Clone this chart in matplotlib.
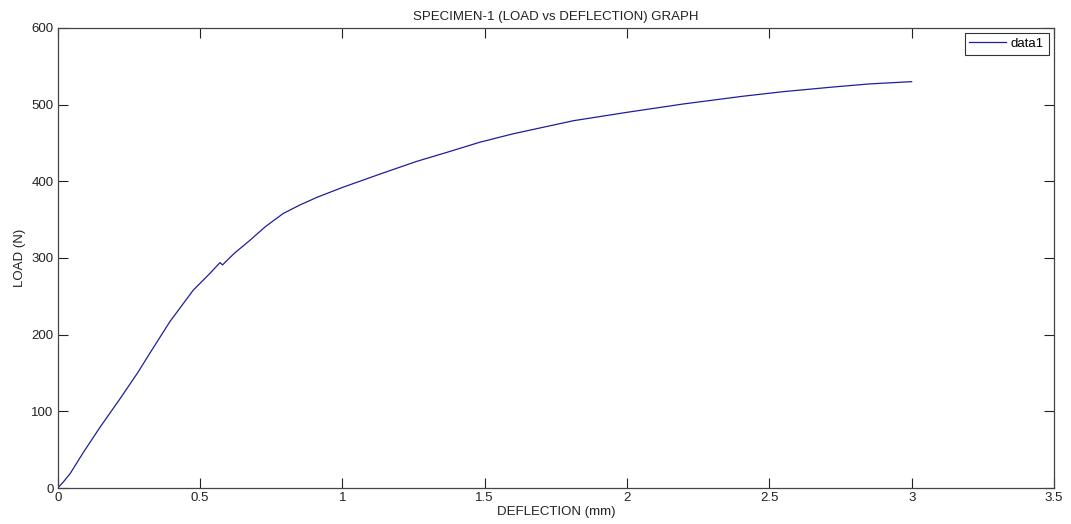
import matplotlib
matplotlib.use("Agg")
import matplotlib.pyplot as plt

deflection = [0, 0.02, 0.044, 0.091, 0.15, 0.22, 0.282, 0.324, 0.394, 0.476, 0.535,
              0.570, 0.579, 0.62, 0.675, 0.73, 0.792, 0.85, 0.91, 1.0, 1.144, 1.261, 1.378,
              1.483, 1.6, 1.811, 2.0, 2.2, 2.408, 2.55, 2.724, 2.85, 3.0]
load = [0, 8, 19, 47, 80, 117, 151, 176, 217, 258, 280,
        294, 291, 306, 323, 341, 358, 369, 379, 392, 411, 426, 439,
        451, 462, 479, 490, 501, 511, 517, 523, 527, 530]

xticks = [0, 0.5, 1, 1.5, 2, 2.5, 3, 3.5]
xtick_labels = ["0", "0.5", "1", "1.5", "2", "2.5", "3", "3.5"]
yticks = [0, 100, 200, 300, 400, 500, 600]

plt.rcParams['font.family'] = ['Liberation Sans', 'DejaVu Sans']
FS = 9.5

fig = plt.figure(figsize=(10.71, 5.24), dpi=100)
ax = fig.add_axes([0.0539, 0.0687, 0.9302, 0.8779])
ax.plot(deflection, load, color='#1e1e9c', linewidth=0.9, label='data1')
ax.set_xlim(0, 3.5)
ax.set_ylim(0, 600)
ax.set_xticks(xticks)
ax.set_xticklabels(xtick_labels)
ax.set_yticks(yticks)
ax.tick_params(direction='in', length=7, width=0.8, top=True, right=True,
               labelsize=FS, colors='#222222', pad=3)
for s in ax.spines.values():
    s.set_color('#444444')
    s.set_linewidth(0.9)
ax.set_title('SPECIMEN-1 (LOAD vs DEFLECTION) GRAPH', fontsize=FS, pad=6, color='#222222')
ax.set_xlabel('DEFLECTION (mm)', fontsize=FS, labelpad=1, color='#222222')
ax.set_ylabel('LOAD (N)', fontsize=FS, labelpad=4, color='#222222')
leg = ax.legend(loc='upper right', fancybox=False, edgecolor='#333333', framealpha=1,
                fontsize=FS, borderaxespad=0.4, handlelength=2.8, borderpad=0.35,
                handletextpad=0.35)
leg.get_frame().set_linewidth(0.8)
fig.savefig('out.png', dpi=100)
